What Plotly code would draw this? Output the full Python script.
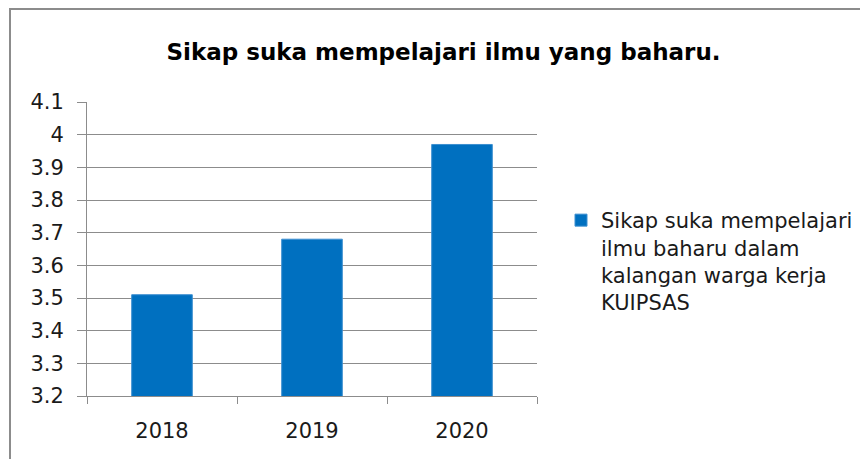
import plotly.graph_objects as go

years = ["2018", "2019", "2020"]
scores = [3.51, 3.68, 3.97]
series_name = "Sikap suka mempelajari<br>ilmu baharu dalam<br>kalangan warga kerja<br>KUIPSAS"
title_text = "Sikap suka mempelajari ilmu yang baharu."
y_ticks = [3.2, 3.3, 3.4, 3.5, 3.6, 3.7, 3.8, 3.9, 4.0, 4.1]
y_tick_text = ["3.2", "3.3", "3.4", "3.5", "3.6", "3.7", "3.8", "3.9", "4", "4.1"]

# page body has an 8px margin, so the figure is laid out in shifted coordinates
W, H = 860, 451
L, R, T, B = 79, 331, 94, 63
PW, PH = W - L - R, H - T - B
FONT = "DejaVu Sans"
TXT = "#1a1a1a"
GRID = "#8c8c8c"

fig = go.Figure()
fig.add_trace(go.Bar(
    x=years, y=scores, name=series_name,
    marker=dict(color="#0070C0", line=dict(color="#3d8fd0", width=1)),
    width=0.404,
    showlegend=True,
))

fig.update_layout(
    width=W, height=H,
    margin=dict(l=L, r=R, t=T, b=B, autoexpand=False),
    paper_bgcolor="white", plot_bgcolor="white",
    font=dict(family=FONT, color=TXT),
    title=dict(text="<b>" + title_text + "</b>", x=435.5 / W, xref="container", xanchor="center",
               y=1 - 44 / H, yref="container", yanchor="middle",
               font=dict(family=FONT, size=23, color="#000000")),
    legend=dict(x=553 / W, xref="container", xanchor="left",
                y=1 - 192 / H, yref="container", yanchor="top",
                valign="top", font=dict(family=FONT, size=21, color=TXT),
                bgcolor="rgba(0,0,0,0)"),
    shapes=[dict(type="rect", xref="paper", yref="paper",
                 x0=(2 - L) / PW, x1=1.8, y0=-0.5, y1=1 + (T - 1) / PH,
                 line=dict(color="#8c8c8c", width=2), layer="above")],
)

fig.update_yaxes(
    range=[3.2, 4.1], tickvals=y_ticks, ticktext=y_tick_text,
    showgrid=True, gridcolor=GRID, gridwidth=1,
    showline=True, linecolor=GRID, linewidth=1,
    ticks="outside", ticklen=9, tickcolor=GRID,
    ticklabelstandoff=9,
    tickfont=dict(family=FONT, size=21, color=TXT),
    zeroline=False,
)
fig.update_xaxes(
    showline=True, linecolor=GRID, linewidth=1,
    ticks="outside", ticklen=7, tickcolor=GRID, tickson="boundaries",
    ticklabelstandoff=16,
    tickfont=dict(family=FONT, size=21, color=TXT),
    showgrid=False,
)

fig.write_html("out.html")
